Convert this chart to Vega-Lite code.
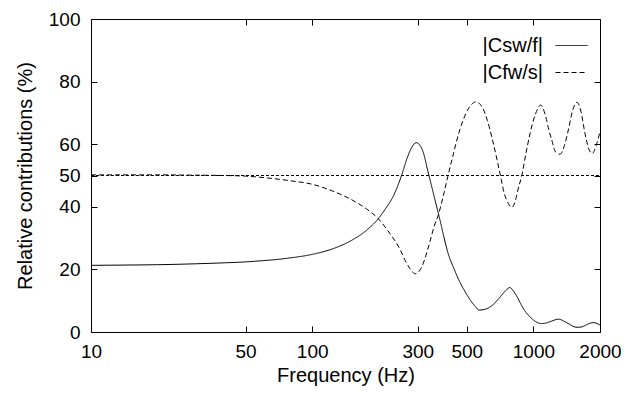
{
  "$schema": "https://vega.github.io/schema/vega-lite/v6.json",
  "width": 509,
  "height": 313,
  "autosize": "none",
  "padding": {"left": 91, "top": 19, "right": 27, "bottom": 64},
  "background": "#ffffff",
  "config": {
    "font": "Liberation Sans",
    "view": {"stroke": "#000000", "strokeWidth": 1},
    "axis": {
      "domain": false,
      "grid": false,
      "labelColor": "#000000",
      "titleColor": "#000000",
      "labelFont": "Liberation Sans",
      "titleFont": "Liberation Sans",
      "labelFontSize": 19,
      "titleFontSize": 20,
      "titleFontWeight": "normal"
    },
    "legend": {
      "labelFont": "Liberation Sans"
    }
  },
  "layer": [
    {
      "data": {
        "values": [
          {"s": "|Csw/f|", "f": 10, "v": 21.3},
          {"s": "|Csw/f|", "f": 15, "v": 21.4},
          {"s": "|Csw/f|", "f": 20, "v": 21.5},
          {"s": "|Csw/f|", "f": 30, "v": 21.8},
          {"s": "|Csw/f|", "f": 40, "v": 22.1},
          {"s": "|Csw/f|", "f": 50, "v": 22.4},
          {"s": "|Csw/f|", "f": 60, "v": 22.8},
          {"s": "|Csw/f|", "f": 70, "v": 23.2},
          {"s": "|Csw/f|", "f": 80, "v": 23.7},
          {"s": "|Csw/f|", "f": 90, "v": 24.2},
          {"s": "|Csw/f|", "f": 100, "v": 24.8},
          {"s": "|Csw/f|", "f": 124, "v": 26.6},
          {"s": "|Csw/f|", "f": 150, "v": 29.2},
          {"s": "|Csw/f|", "f": 176, "v": 32.5},
          {"s": "|Csw/f|", "f": 199, "v": 36.2},
          {"s": "|Csw/f|", "f": 215, "v": 39.5},
          {"s": "|Csw/f|", "f": 233, "v": 43.5},
          {"s": "|Csw/f|", "f": 254, "v": 50.2},
          {"s": "|Csw/f|", "f": 270, "v": 56.0},
          {"s": "|Csw/f|", "f": 282, "v": 59.0},
          {"s": "|Csw/f|", "f": 295, "v": 60.5},
          {"s": "|Csw/f|", "f": 308, "v": 59.5},
          {"s": "|Csw/f|", "f": 318, "v": 57.3},
          {"s": "|Csw/f|", "f": 333, "v": 51.5},
          {"s": "|Csw/f|", "f": 341, "v": 48.6},
          {"s": "|Csw/f|", "f": 359, "v": 42.2},
          {"s": "|Csw/f|", "f": 378, "v": 35.8},
          {"s": "|Csw/f|", "f": 395, "v": 30.0},
          {"s": "|Csw/f|", "f": 410, "v": 25.5},
          {"s": "|Csw/f|", "f": 440, "v": 19.8},
          {"s": "|Csw/f|", "f": 466, "v": 15.8},
          {"s": "|Csw/f|", "f": 490, "v": 13.0},
          {"s": "|Csw/f|", "f": 517, "v": 10.3},
          {"s": "|Csw/f|", "f": 545, "v": 8.2},
          {"s": "|Csw/f|", "f": 569, "v": 7.0},
          {"s": "|Csw/f|", "f": 600, "v": 7.2},
          {"s": "|Csw/f|", "f": 630, "v": 7.8},
          {"s": "|Csw/f|", "f": 659, "v": 8.8},
          {"s": "|Csw/f|", "f": 700, "v": 10.8},
          {"s": "|Csw/f|", "f": 740, "v": 12.8},
          {"s": "|Csw/f|", "f": 783, "v": 14.2},
          {"s": "|Csw/f|", "f": 810, "v": 13.2},
          {"s": "|Csw/f|", "f": 840, "v": 11.5},
          {"s": "|Csw/f|", "f": 869, "v": 9.5},
          {"s": "|Csw/f|", "f": 910, "v": 7.0},
          {"s": "|Csw/f|", "f": 966, "v": 4.8},
          {"s": "|Csw/f|", "f": 1020, "v": 3.4},
          {"s": "|Csw/f|", "f": 1080, "v": 2.7},
          {"s": "|Csw/f|", "f": 1130, "v": 2.8},
          {"s": "|Csw/f|", "f": 1200, "v": 3.4},
          {"s": "|Csw/f|", "f": 1297, "v": 4.1},
          {"s": "|Csw/f|", "f": 1380, "v": 3.4},
          {"s": "|Csw/f|", "f": 1463, "v": 2.4},
          {"s": "|Csw/f|", "f": 1540, "v": 1.6},
          {"s": "|Csw/f|", "f": 1600, "v": 1.5},
          {"s": "|Csw/f|", "f": 1680, "v": 1.8},
          {"s": "|Csw/f|", "f": 1760, "v": 2.5},
          {"s": "|Csw/f|", "f": 1866, "v": 3.0},
          {"s": "|Csw/f|", "f": 1940, "v": 2.7},
          {"s": "|Csw/f|", "f": 2000, "v": 2.2},
          {"s": "|Cfw/s|", "f": 10, "v": 50.2},
          {"s": "|Cfw/s|", "f": 20, "v": 50.2},
          {"s": "|Cfw/s|", "f": 30, "v": 50.1},
          {"s": "|Cfw/s|", "f": 40, "v": 50.0},
          {"s": "|Cfw/s|", "f": 50, "v": 49.8},
          {"s": "|Cfw/s|", "f": 63, "v": 49.2},
          {"s": "|Cfw/s|", "f": 80, "v": 48.3},
          {"s": "|Cfw/s|", "f": 100, "v": 47.2},
          {"s": "|Cfw/s|", "f": 124, "v": 45.0},
          {"s": "|Cfw/s|", "f": 153, "v": 42.0},
          {"s": "|Cfw/s|", "f": 176, "v": 39.3},
          {"s": "|Cfw/s|", "f": 199, "v": 36.2},
          {"s": "|Cfw/s|", "f": 220, "v": 32.3},
          {"s": "|Cfw/s|", "f": 249, "v": 26.5},
          {"s": "|Cfw/s|", "f": 267, "v": 22.0},
          {"s": "|Cfw/s|", "f": 280, "v": 19.8},
          {"s": "|Cfw/s|", "f": 292, "v": 18.6},
          {"s": "|Cfw/s|", "f": 305, "v": 19.5},
          {"s": "|Cfw/s|", "f": 318, "v": 22.0},
          {"s": "|Cfw/s|", "f": 330, "v": 25.5},
          {"s": "|Cfw/s|", "f": 341, "v": 29.0},
          {"s": "|Cfw/s|", "f": 355, "v": 33.5},
          {"s": "|Cfw/s|", "f": 372, "v": 37.5},
          {"s": "|Cfw/s|", "f": 390, "v": 43.0},
          {"s": "|Cfw/s|", "f": 410, "v": 49.6},
          {"s": "|Cfw/s|", "f": 435, "v": 57.0},
          {"s": "|Cfw/s|", "f": 457, "v": 62.9},
          {"s": "|Cfw/s|", "f": 480, "v": 67.5},
          {"s": "|Cfw/s|", "f": 510, "v": 71.5},
          {"s": "|Cfw/s|", "f": 550, "v": 73.5},
          {"s": "|Cfw/s|", "f": 585, "v": 72.0},
          {"s": "|Cfw/s|", "f": 620, "v": 67.5},
          {"s": "|Cfw/s|", "f": 655, "v": 61.0},
          {"s": "|Cfw/s|", "f": 685, "v": 55.0},
          {"s": "|Cfw/s|", "f": 710, "v": 49.8},
          {"s": "|Cfw/s|", "f": 740, "v": 44.0},
          {"s": "|Cfw/s|", "f": 771, "v": 41.0},
          {"s": "|Cfw/s|", "f": 798, "v": 39.8},
          {"s": "|Cfw/s|", "f": 825, "v": 41.5},
          {"s": "|Cfw/s|", "f": 855, "v": 46.0},
          {"s": "|Cfw/s|", "f": 885, "v": 49.8},
          {"s": "|Cfw/s|", "f": 925, "v": 57.0},
          {"s": "|Cfw/s|", "f": 966, "v": 63.5},
          {"s": "|Cfw/s|", "f": 1020, "v": 69.5},
          {"s": "|Cfw/s|", "f": 1079, "v": 72.5},
          {"s": "|Cfw/s|", "f": 1130, "v": 69.5},
          {"s": "|Cfw/s|", "f": 1175, "v": 64.5},
          {"s": "|Cfw/s|", "f": 1211, "v": 61.3},
          {"s": "|Cfw/s|", "f": 1260, "v": 57.5},
          {"s": "|Cfw/s|", "f": 1319, "v": 56.8},
          {"s": "|Cfw/s|", "f": 1380, "v": 59.5},
          {"s": "|Cfw/s|", "f": 1438, "v": 64.5},
          {"s": "|Cfw/s|", "f": 1500, "v": 70.5},
          {"s": "|Cfw/s|", "f": 1575, "v": 73.4},
          {"s": "|Cfw/s|", "f": 1640, "v": 70.5},
          {"s": "|Cfw/s|", "f": 1710, "v": 63.5},
          {"s": "|Cfw/s|", "f": 1780, "v": 58.5},
          {"s": "|Cfw/s|", "f": 1845, "v": 57.0},
          {"s": "|Cfw/s|", "f": 1920, "v": 59.5},
          {"s": "|Cfw/s|", "f": 2000, "v": 64.0}
        ]
      },
      "mark": {"type": "line", "interpolate": "monotone", "color": "#000000", "strokeWidth": 1},
      "encoding": {
        "x": {
          "field": "f",
          "type": "quantitative",
          "scale": {"type": "log", "domain": [10, 2000], "nice": false},
          "axis": null
        },
        "y": {
          "field": "v",
          "type": "quantitative",
          "scale": {"domain": [0, 100], "nice": false},
          "axis": null
        },
        "strokeDash": {
          "field": "s",
          "type": "nominal",
          "scale": {"domain": ["|Csw/f|", "|Cfw/s|"], "range": [[1, 0], [5, 3]]},
          "legend": {
            "orient": "top-right",
            "title": null,
            "symbolType": "stroke",
            "symbolSize": 1024,
            "symbolStrokeWidth": 1,
            "symbolStrokeColor": "#000000",
            "labelFontSize": 20,
            "labelColor": "#000000",
            "labelAlign": "right",
            "labelOffset": -45,
            "rowPadding": -9,
            "offset": 10,
            "padding": 0
          }
        }
      }
    },
    {
      "data": {"values": [{}]},
      "mark": {"type": "rule", "color": "#000000", "strokeWidth": 1, "strokeDash": [3, 2]},
      "encoding": {
        "x": {
          "datum": 10,
          "type": "quantitative",
          "axis": {"orient": "top", "values": [10, 50, 100, 300, 500, 1000, 2000], "labels": false, "title": null, "ticks": true, "tickSize": -6, "tickWidth": 1, "tickColor": "#000000"}
        },
        "x2": {"datum": 2000},
        "y": {
          "datum": 50,
          "type": "quantitative",
          "axis": {"orient": "right", "values": [0, 20, 40, 50, 60, 80, 100], "labels": false, "title": null, "ticks": true, "tickSize": -6, "tickWidth": 1, "tickColor": "#000000"}
        }
      }
    },
    {
      "data": {"values": [{}]},
      "mark": {"type": "rule", "strokeOpacity": 0},
      "encoding": {
        "x": {
          "datum": 10,
          "type": "quantitative",
          "axis": {
            "orient": "bottom",
            "values": [10, 50, 100, 300, 500, 1000, 2000],
            "format": "d",
            "title": "Frequency (Hz)",
            "ticks": true,
            "tickSize": -6,
            "tickWidth": 1,
            "tickColor": "#000000",
            "labelFlush": false,
            "labelOverlap": false,
            "labelPadding": 16,
            "titlePadding": 4
          }
        },
        "x2": {"datum": 2000},
        "y": {
          "datum": 50,
          "type": "quantitative",
          "axis": {
            "orient": "left",
            "values": [0, 20, 40, 50, 60, 80, 100],
            "title": "Relative contributions (%)",
            "ticks": true,
            "tickSize": -6,
            "tickWidth": 1,
            "tickColor": "#000000",
            "labelPadding": 17,
            "titlePadding": 13
          }
        }
      }
    }
  ],
  "resolve": {"axis": {"x": "independent", "y": "independent"}}
}
